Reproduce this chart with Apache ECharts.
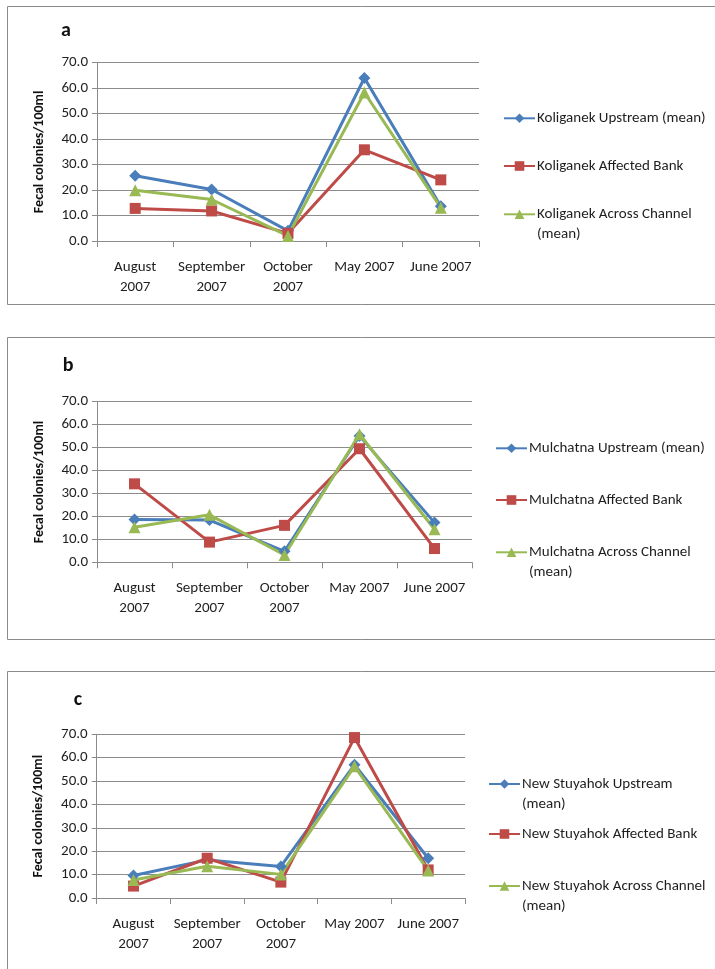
<!DOCTYPE html>
<html>
<head>
<meta charset="utf-8">
<script src="https://cdn.jsdelivr.net/npm/echarts@6/dist/echarts.min.js"></script>
<style>
html,body{margin:0;padding:0;background:#fff;}
#chart{width:715px;height:969px;}
</style>
</head>
<body>
<div id="chart"></div>
<script>
// ---- data ----
var categories = ['August 2007', 'September 2007', 'October 2007', 'May 2007', 'June 2007'];
var yTicks = [0, 10, 20, 30, 40, 50, 60, 70];
var panelLetters = ['a', 'b', 'c'];
var yAxisTitle = 'Fecal colonies/100ml';

var koliganekNames = ['Koliganek Upstream (mean)', 'Koliganek Affected Bank', 'Koliganek Across Channel (mean)'];
var koliganekUpstream = [25.6, 20.2, 4.0, 64.0, 13.6];
var koliganekAffected = [12.8, 11.8, 3.0, 35.8, 24.0];
var koliganekAcross = [19.9, 16.3, 2.0, 58.3, 13.1];

var mulchatnaNames = ['Mulchatna Upstream (mean)', 'Mulchatna Affected Bank', 'Mulchatna Across Channel (mean)'];
var mulchatnaUpstream = [18.7, 18.4, 4.8, 55.1, 17.3];
var mulchatnaAffected = [34.2, 8.8, 16.1, 49.5, 6.0];
var mulchatnaAcross = [15.3, 20.7, 3.2, 55.8, 14.4];

var stuyahokNames = ['New Stuyahok Upstream (mean)', 'New Stuyahok Affected Bank', 'New Stuyahok Across Channel (mean)'];
var stuyahokUpstream = [9.6, 16.3, 13.5, 57.0, 17.0];
var stuyahokAffected = [5.1, 17.0, 6.8, 68.6, 12.0];
var stuyahokAcross = [7.7, 13.6, 10.1, 56.3, 11.8];

// ---- layout / style ----
var FONT = 'Carlito, Lato, "Liberation Sans", sans-serif';
var TXT = '#1e1e1e';
var GRIDC = '#8c8c8c';
var colors = ['#4A7EBB', '#BE4B48', '#98B954'];
var symbols = ['diamond', 'rect', 'triangle'];
var symbolSizes = [12, 11, 12];

var panels = [
  {names: koliganekNames, data: [koliganekUpstream, koliganekAffected, koliganekAcross],
   grid: {left: 97, top: 62.7, width: 382, height: 178.3},
   box: {y: 6, h: 298}, letter: {x: 66, y: 31},
   legendX: 503, legendY: [118.3, 166, 214.3]},
  {names: mulchatnaNames, data: [mulchatnaUpstream, mulchatnaAffected, mulchatnaAcross],
   grid: {left: 97, top: 401.7, width: 375, height: 160.6},
   box: {y: 337, h: 302}, letter: {x: 68, y: 366},
   legendX: 495, legendY: [448.3, 500, 552.3]},
  {names: stuyahokNames, data: [stuyahokUpstream, stuyahokAffected, stuyahokAcross],
   grid: {left: 96.7, top: 734.3, width: 368.3, height: 163.7},
   box: {y: 671, h: 400}, letter: {x: 78, y: 700},
   legendX: 488, legendY: [784, 834, 886]}
];

var LEG_LH = 20;

function wrapLegend(name) {
  var first = name, second = '';
  if (name.length > 26) {
    var i = name.lastIndexOf(' (');
    if (i > 0) { first = name.slice(0, i); second = name.slice(i + 1); }
  }
  return '\n' + first + '\n' + second;
}

var grids = [], xAxes = [], yAxes = [], series = [], legends = [], graphics = [];

panels.forEach(function (p, pi) {
  grids.push(p.grid);
  xAxes.push({
    type: 'category', gridIndex: pi, data: categories, boundaryGap: true,
    axisLine: {show: true, lineStyle: {color: GRIDC, width: 1}},
    axisTick: {show: true, length: 6, lineStyle: {color: GRIDC}},
    axisLabel: {
      color: TXT, fontFamily: FONT, fontSize: 15, lineHeight: 20, margin: 16,
      interval: 0,
      formatter: function (v) { return v.length > 9 ? v.replace(' ', '\n') : v; }
    },
    splitLine: {show: false}
  });
  yAxes.push({
    type: 'value', gridIndex: pi, min: yTicks[0], max: yTicks[yTicks.length - 1],
    interval: yTicks[1] - yTicks[0],
    name: yAxisTitle, nameLocation: 'middle', nameGap: 51, nameRotate: 90,
    nameTextStyle: {color: '#111', fontFamily: FONT, fontSize: 14, fontWeight: 'bold'},
    axisLine: {show: true, lineStyle: {color: GRIDC, width: 1}},
    axisTick: {show: true, length: 5, lineStyle: {color: GRIDC}},
    axisLabel: {color: TXT, fontFamily: FONT, fontSize: 15, margin: 9,
      formatter: function (v) { return v.toFixed(1); }},
    splitLine: {show: true, lineStyle: {color: GRIDC, width: 1}}
  });
  p.names.forEach(function (nm, si) {
    series.push({
      type: 'line', name: nm, xAxisIndex: pi, yAxisIndex: pi,
      data: p.data[si],
      symbol: symbols[si], symbolSize: symbolSizes[si],
      lineStyle: {color: colors[si], width: 3},
      itemStyle: {color: colors[si]},
      emphasis: {disabled: true}
    });
    legends.push({
      data: [nm], orient: 'vertical', padding: 0,
      left: p.legendX, top: p.legendY[si] - 1.5 * LEG_LH,
      itemWidth: 31, itemHeight: 12, itemGap: 0,
      selectedMode: false,
      textStyle: {color: TXT, fontFamily: FONT, fontSize: 15, lineHeight: LEG_LH, padding: [0, 0, 0, -3]},
      formatter: wrapLegend
    });
  });
  graphics.push({
    type: 'rect', silent: true,
    shape: {x: 7.5, y: p.box.y + 0.5, width: 730, height: p.box.h},
    style: {fill: 'none', stroke: '#8a8a8a', lineWidth: 1}
  });
  graphics.push({
    type: 'text', silent: true, x: p.letter.x, y: p.letter.y,
    style: {text: panelLetters[pi], fill: '#111', font: 'bold 20px ' + FONT,
      textAlign: 'center', textVerticalAlign: 'middle'}
  });
});

var chart = echarts.init(document.getElementById('chart'), null, {renderer: 'canvas'});
chart.setOption({
  animation: false,
  backgroundColor: '#ffffff',
  grid: grids,
  xAxis: xAxes,
  yAxis: yAxes,
  legend: legends,
  series: series,
  graphic: graphics
});
</script>
</body>
</html>
